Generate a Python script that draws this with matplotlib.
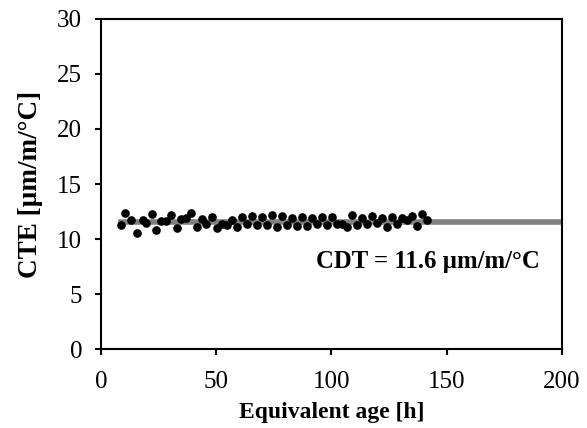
import matplotlib.pyplot as plt

plt.rcParams['font.family'] = ['Liberation Serif', 'DejaVu Serif']

# Equivalent age [h] and measured CTE [um/m/C]
age = [8.6, 10.4, 13.0, 15.5, 18.1, 19.6, 22.0, 23.9, 25.9, 28.3, 30.4, 32.9,
       34.8, 36.8, 39.1, 41.6, 43.8, 45.7, 48.1, 50.3, 52.5, 54.6, 56.8, 59.0,
       61.2, 63.3, 65.5, 67.7, 69.9, 72.0, 74.2, 76.4, 78.6, 80.7, 82.9, 85.1,
       87.3, 89.4, 91.6, 93.8, 96.0, 98.1, 100.3, 102.5, 104.6, 106.8, 109.0,
       111.2, 113.3, 115.5, 117.7, 119.9, 122.0, 124.2, 126.4, 128.6, 130.7,
       132.9, 135.1, 137.3, 139.4, 141.6]
cte = [11.3, 12.4, 11.7, 10.6, 11.7, 11.5, 12.3, 10.8, 11.6, 11.6, 12.2, 11.0,
       11.8, 11.9, 12.4, 11.1, 11.8, 11.4, 12.0, 11.0, 11.4, 11.3, 11.7, 11.1,
       12.0, 11.4, 12.1, 11.3, 12.0, 11.3, 12.2, 11.1, 12.1, 11.3, 11.9, 11.2,
       12.0, 11.2, 11.9, 11.4, 12.0, 11.3, 12.0, 11.4, 11.4, 11.1, 12.2,
       11.3, 11.9, 11.4, 12.1, 11.5, 11.9, 11.1, 12.0, 11.4, 11.9,
       11.7, 12.1, 11.2, 12.3, 11.7]

cdt = 11.6
cdt_range = [8.6, 200]

fig = plt.figure(figsize=(5.87, 4.28), dpi=100)
ax = fig.add_axes([0.172, 0.184, 0.785, 0.772])

ax.plot(cdt_range, [cdt - 0.05, cdt - 0.05], color='#808080', lw=4, zorder=1)
ax.plot(age, cte, 'o', color='black', ms=5.2, zorder=2)

ax.text(142, 8.0, 'CDT = 11.6 µm/m/°C', ha='center', va='center',
        fontsize=17.8, fontweight='bold')

ax.set_xlim(0, 200)
ax.set_ylim(0, 30)
ax.set_xticks([0, 50, 100, 150, 200])
ax.set_yticks([0, 5, 10, 15, 20, 25, 30])
ax.tick_params(direction='out', length=4.5, width=1.5, labelsize=18)
ax.tick_params(axis='x', pad=11)
ax.tick_params(axis='y', pad=9)
for s in ax.spines.values():
    s.set_linewidth(1.5)

ax.set_xlabel('Equivalent age [h]', fontsize=17, fontweight='bold', labelpad=7)
ax.set_ylabel('CTE [µm/m/°C]', fontsize=19.5, fontweight='bold', labelpad=10)

fig.savefig('out.png', dpi=100)
